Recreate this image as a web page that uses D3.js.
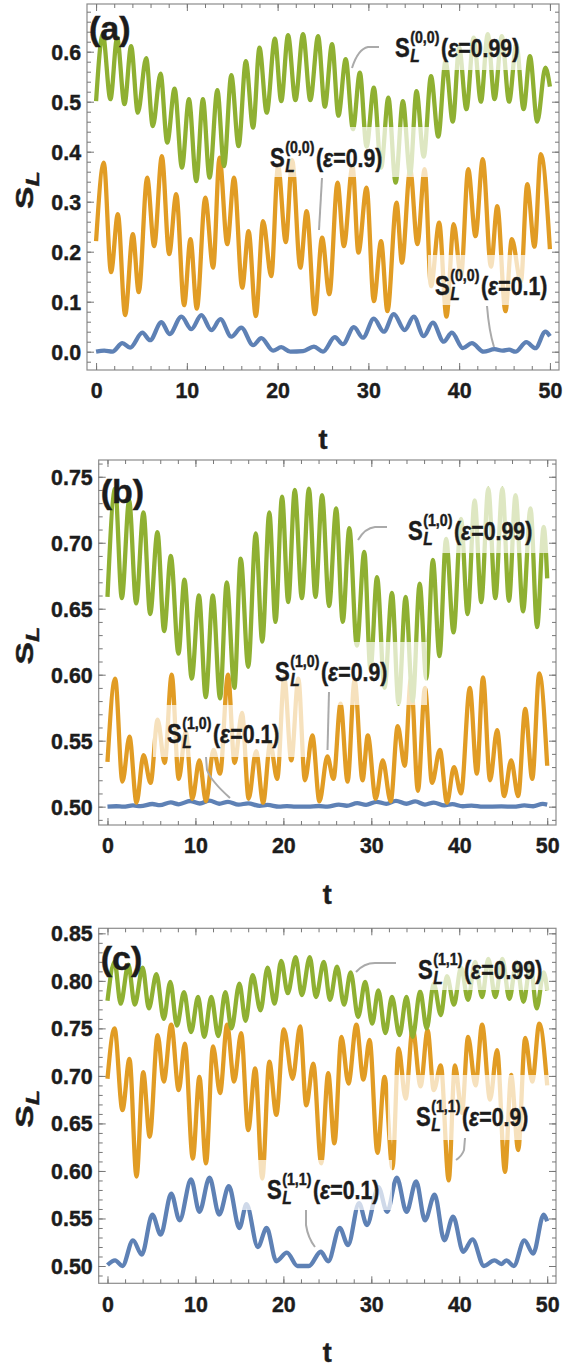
<!DOCTYPE html>
<html>
<head>
<meta charset="utf-8">
<style>
    body { margin: 0; background: #fff; }
    svg { display: block; }
    text {
        font-family: 'Liberation Sans', Arial, sans-serif;
        font-weight: bold;
        fill: #1c1c1c;
        stroke: #1c1c1c;
        stroke-width: 0.45px;
    }
</style>
</head>
<body>
<svg width="568" height="1370"></svg>

<script src="https://cdn.jsdelivr.net/npm/d3@7"></script>
<script>
    // ---- data (extrema of each curve) ----
    let tTicks = [0, 10, 20, 30, 40, 50]

    // panel (a): S_L^(0,0)
    let aTicks = [0.0, 0.1, 0.2, 0.3, 0.4, 0.5, 0.6]
    let aBlueT = [0, 0.9, 1.8, 2.9, 3.75, 5.1, 5.95, 7.2, 8.1, 9.4, 10.5, 11.6, 12.7, 13.7, 14.9, 16.0, 17.3, 18.2, 19.5, 20.4, 21.4, 22.8, 24.0, 25.0, 26.3, 27.2, 28.4, 29.4, 30.6, 31.7, 32.8, 34.0, 35.0, 36.1, 37.1, 38.3, 39.2, 40.4, 41.4, 42.7, 43.9, 44.8, 45.5, 46.2, 47.4, 48.4, 49.5, 50]
    let aBlueV = [0, 0.002, 0, 0.017, 0.008, 0.038, 0.023, 0.059, 0.035, 0.070, 0.045, 0.073, 0.043, 0.065, 0.030, 0.048, 0.013, 0.027, 0.002, 0.009, 0, 0.001, 0.010, 0, 0.029, 0.015, 0.049, 0.028, 0.066, 0.040, 0.075, 0.043, 0.070, 0.031, 0.058, 0.020, 0.038, 0.007, 0.017, 0, 0.005, 0.002, 0.004, 0, 0.019, 0.007, 0.040, 0.031]
    let aOrangeT = [0, 0.85, 1.65, 2.4, 3.2, 4.05, 4.7, 5.63, 6.4, 7.25, 8.05, 8.83, 9.7, 10.4, 11.1, 12.03, 12.9, 13.6, 14.45, 15.2, 16.1, 16.8, 17.6, 18.4, 19.3, 20.05, 20.9, 21.6, 22.5, 23.2, 24.1, 24.9, 25.7, 26.6, 27.3, 28.25, 28.9, 29.8, 30.6, 31.4, 32.1, 33.1, 33.7, 34.6, 35.4, 36.2, 36.9, 37.8, 38.6, 39.4, 40.2, 41.0, 41.8, 42.6, 43.5, 44.2, 45.1, 45.8, 46.8, 47.5, 48.3, 49.0, 50]
    let aOrangeV = [0.221, 0.378, 0.159, 0.275, 0.073, 0.235, 0.119, 0.348, 0.211, 0.391, 0.195, 0.315, 0.093, 0.225, 0.086, 0.308, 0.168, 0.388, 0.215, 0.348, 0.128, 0.241, 0.071, 0.261, 0.151, 0.371, 0.219, 0.383, 0.168, 0.281, 0.075, 0.228, 0.115, 0.338, 0.211, 0.371, 0.198, 0.328, 0.101, 0.221, 0.081, 0.298, 0.178, 0.365, 0.215, 0.365, 0.131, 0.258, 0.070, 0.255, 0.151, 0.365, 0.231, 0.385, 0.170, 0.291, 0.081, 0.225, 0.140, 0.335, 0.210, 0.395, 0.205]
    let aGreenT = [0, 0.74, 1.58, 2.32, 3.13, 3.86, 4.6, 5.52, 6.25, 7.1, 7.84, 8.65, 9.46, 10.23, 11.04, 11.77, 12.5, 13.36, 14.1, 14.9, 15.7, 16.5, 17.3, 18.0, 18.8, 19.7, 20.4, 21.15, 21.96, 22.8, 23.6, 24.46, 25.2, 26.0, 26.7, 27.5, 28.3, 29.06, 29.8, 30.6, 31.4, 32.2, 33.0, 33.8, 34.6, 35.3, 36.1, 36.9, 37.7, 38.5, 39.3, 40.0, 40.8, 41.6, 42.4, 43.15, 43.9, 44.7, 45.5, 46.3, 47.1, 47.8, 48.6, 49.5, 50]
    let aGreenV = [0.501, 0.635, 0.505, 0.628, 0.495, 0.611, 0.478, 0.587, 0.451, 0.556, 0.418, 0.526, 0.368, 0.505, 0.341, 0.505, 0.348, 0.523, 0.371, 0.553, 0.411, 0.581, 0.448, 0.608, 0.478, 0.626, 0.501, 0.633, 0.503, 0.635, 0.503, 0.631, 0.490, 0.615, 0.472, 0.585, 0.445, 0.558, 0.410, 0.528, 0.368, 0.508, 0.338, 0.501, 0.355, 0.521, 0.390, 0.551, 0.430, 0.581, 0.460, 0.608, 0.485, 0.628, 0.500, 0.635, 0.505, 0.631, 0.500, 0.615, 0.485, 0.591, 0.460, 0.568, 0.530]

    // panel (b): S_L^(1,0)
    let bTicks = [0.50, 0.55, 0.60, 0.65, 0.70, 0.75]
    let bBlueT = [0, 1.0, 1.8, 2.9, 3.75, 5.1, 5.95, 7.2, 8.1, 9.4, 10.5, 11.6, 12.7, 13.7, 14.9, 16.0, 17.3, 18.2, 19.5, 20.4, 21.4, 22.8, 24.0, 25.0, 26.3, 27.2, 28.4, 29.4, 30.6, 31.7, 32.8, 34.0, 35.0, 36.1, 37.1, 38.3, 39.2, 40.4, 41.4, 42.7, 44.8, 46.2, 47.4, 48.4, 49.5, 50]
    let bBlueV = [0.5, 0.5003, 0.5, 0.5009, 0.5004, 0.5020, 0.5011, 0.5032, 0.5018, 0.5043, 0.5024, 0.5046, 0.5022, 0.5037, 0.5015, 0.5025, 0.5006, 0.5013, 0.5, 0.5004, 0.5, 0.5, 0.5005, 0.5, 0.5015, 0.5007, 0.5027, 0.5014, 0.5037, 0.5021, 0.5044, 0.5022, 0.5040, 0.5016, 0.5031, 0.5010, 0.5019, 0.5003, 0.5008, 0.5, 0.5002, 0.5, 0.5009, 0.5003, 0.5021, 0.5016]
    let bOrangeT = [0, 0.87, 1.7, 2.5, 3.3, 4.1, 4.9, 5.7, 6.5, 7.3, 8.1, 8.9, 9.65, 10.45, 11.2, 12.05, 12.8, 13.7, 14.45, 15.3, 16.05, 16.9, 17.7, 18.5, 19.3, 20.1, 20.9, 21.7, 22.45, 23.3, 24.1, 25.0, 25.7, 26.5, 27.3, 28.1, 29.0, 29.6, 30.5, 31.3, 32.2, 33.0, 33.8, 34.5, 35.3, 36.1, 36.9, 37.8, 38.6, 39.4, 40.2, 41.2, 42.0, 42.7, 43.5, 44.3, 45.1, 45.9, 46.7, 47.5, 48.3, 49.1, 50]
    let bOrangeV = [0.534, 0.597, 0.519, 0.553, 0.503, 0.539, 0.518, 0.566, 0.533, 0.600, 0.521, 0.557, 0.506, 0.535, 0.504, 0.543, 0.525, 0.600, 0.533, 0.571, 0.506, 0.542, 0.503, 0.548, 0.521, 0.598, 0.535, 0.597, 0.520, 0.554, 0.504, 0.538, 0.521, 0.578, 0.519, 0.596, 0.520, 0.554, 0.506, 0.535, 0.504, 0.561, 0.531, 0.597, 0.512, 0.590, 0.518, 0.543, 0.503, 0.530, 0.510, 0.590, 0.525, 0.598, 0.520, 0.558, 0.508, 0.535, 0.508, 0.574, 0.521, 0.601, 0.531]
    let bGreenT = [0, 0.87, 1.63, 2.46, 3.26, 4.09, 4.85, 5.68, 6.44, 7.2, 8.07, 8.75, 9.58, 10.4, 11.17, 11.97, 12.8, 13.56, 14.43, 15.15, 16.0, 16.86, 17.6, 18.4, 19.1, 19.85, 20.55, 21.3, 22.1, 22.9, 23.65, 24.4, 25.2, 26.0, 26.75, 27.5, 28.35, 29.2, 29.9, 30.65, 31.5, 32.35, 33.1, 33.9, 34.7, 35.5, 36.25, 37.0, 37.75, 38.5, 39.35, 40.2, 40.95, 41.75, 42.5, 43.3, 44.1, 44.9, 45.65, 46.4, 47.25, 48.1, 48.85, 49.6, 50]
    let bGreenV = [0.659, 0.741, 0.658, 0.732, 0.654, 0.723, 0.646, 0.708, 0.633, 0.690, 0.616, 0.672, 0.597, 0.660, 0.583, 0.660, 0.582, 0.670, 0.590, 0.688, 0.606, 0.707, 0.625, 0.723, 0.640, 0.735, 0.655, 0.740, 0.658, 0.741, 0.659, 0.736, 0.652, 0.726, 0.640, 0.711, 0.622, 0.693, 0.604, 0.674, 0.590, 0.662, 0.578, 0.659, 0.580, 0.669, 0.597, 0.687, 0.614, 0.703, 0.632, 0.718, 0.646, 0.732, 0.655, 0.741, 0.658, 0.741, 0.656, 0.736, 0.648, 0.726, 0.636, 0.712, 0.673]

    // panel (c): S_L^(1,1)
    let cTicks = [0.50, 0.55, 0.60, 0.65, 0.70, 0.75, 0.80, 0.85]
    let cBlueT = [0, 0.86, 1.7, 2.9, 3.9, 5.1, 6.05, 7.25, 8.2, 9.5, 10.45, 11.6, 12.7, 13.8, 15.0, 15.8, 17.1, 18.1, 19.2, 20.4, 21.6, 22.9, 24.25, 25.1, 26.4, 27.35, 28.6, 29.5, 30.8, 31.8, 32.9, 34.0, 35.1, 36.1, 37.2, 38.3, 39.3, 40.45, 41.5, 42.8, 44.0, 44.8, 45.35, 46.2, 47.4, 48.4, 49.6, 50]
    let cBlueV = [0.501, 0.506, 0.500, 0.527, 0.512, 0.554, 0.533, 0.576, 0.548, 0.591, 0.557, 0.593, 0.554, 0.584, 0.540, 0.565, 0.520, 0.540, 0.505, 0.514, 0.500, 0.500, 0.515, 0.505, 0.540, 0.522, 0.566, 0.543, 0.583, 0.557, 0.593, 0.557, 0.589, 0.548, 0.575, 0.527, 0.552, 0.515, 0.528, 0.500, 0.506, 0.502, 0.506, 0.500, 0.527, 0.513, 0.554, 0.547]
    let cOrangeT = [0, 0.8, 1.7, 2.5, 3.3, 4.06, 4.8, 5.7, 6.4, 7.25, 8.1, 8.8, 9.7, 10.45, 11.2, 12.0, 12.8, 13.6, 14.4, 15.2, 16.0, 16.8, 17.6, 18.4, 19.2, 20.05, 21.05, 21.9, 22.6, 23.4, 24.3, 25.1, 25.8, 26.6, 27.4, 28.3, 29.1, 29.8, 30.7, 31.5, 32.4, 33.1, 33.9, 34.7, 35.6, 36.4, 37.1, 37.9, 38.8, 39.5, 40.3, 41.0, 41.85, 42.6, 43.5, 44.3, 45.2, 45.9, 46.7, 47.5, 48.3, 49.1, 50]
    let cOrangeV = [0.697, 0.750, 0.664, 0.718, 0.594, 0.704, 0.636, 0.743, 0.694, 0.754, 0.685, 0.734, 0.613, 0.699, 0.608, 0.731, 0.682, 0.754, 0.694, 0.745, 0.643, 0.708, 0.592, 0.715, 0.659, 0.749, 0.697, 0.752, 0.669, 0.713, 0.608, 0.703, 0.629, 0.741, 0.692, 0.754, 0.696, 0.738, 0.619, 0.699, 0.603, 0.729, 0.676, 0.750, 0.689, 0.748, 0.685, 0.711, 0.590, 0.711, 0.661, 0.741, 0.690, 0.754, 0.675, 0.727, 0.599, 0.701, 0.622, 0.740, 0.694, 0.755, 0.690]
    let cGreenT = [0, 0.8, 1.5, 2.37, 3.1, 4.0, 4.7, 5.56, 6.4, 7.14, 7.9, 8.7, 9.5, 10.3, 11.0, 11.8, 12.6, 13.4, 14.1, 15.0, 15.7, 16.5, 17.4, 18.2, 19.0, 19.75, 20.5, 21.4, 22.1, 23.0, 23.7, 24.6, 25.3, 26.1, 26.9, 27.65, 28.5, 29.3, 30.1, 30.8, 31.6, 32.35, 33.2, 34.0, 34.7, 35.55, 36.3, 37.1, 37.9, 38.6, 39.4, 40.2, 41.0, 41.8, 42.6, 43.3, 44.1, 44.9, 45.7, 46.5, 47.3, 48.1, 48.8, 49.6, 50]
    let cGreenV = [0.779, 0.820, 0.776, 0.817, 0.775, 0.814, 0.771, 0.807, 0.760, 0.799, 0.753, 0.788, 0.746, 0.783, 0.741, 0.783, 0.742, 0.788, 0.750, 0.797, 0.758, 0.806, 0.769, 0.814, 0.776, 0.821, 0.787, 0.825, 0.785, 0.825, 0.783, 0.820, 0.780, 0.815, 0.775, 0.809, 0.762, 0.799, 0.755, 0.790, 0.745, 0.783, 0.743, 0.783, 0.741, 0.789, 0.750, 0.797, 0.764, 0.805, 0.775, 0.814, 0.780, 0.820, 0.783, 0.823, 0.783, 0.823, 0.781, 0.820, 0.778, 0.817, 0.771, 0.809, 0.790]

    let blue = '#5e81b5', orange = '#e19c24', green = '#8fb032'

    let panels = [
        {
            name: '(a)', nameY: 40, left: 87, right: 559, top: 4, bottom: 370,
            yDomain: [-0.0366, 0.6954], ticks: aTicks, minorStep: 0.02, fmt: '.1f',
            series: [[aBlueT, aBlueV, blue], [aOrangeT, aOrangeV, orange], [aGreenT, aGreenV, green]],
            labels: [
                { sup: '(0,0)', eps: '0.99', x: 395, b: 57, box: [390, 28, 524, 70], lead: 'M352,68 Q358,49 368,47 L379,47' },
                { sup: '(0,0)', eps: '0.9', x: 270, b: 167, box: [266, 127, 433, 177], lead: 'M322,178 L319,230' },
                { sup: '(0,0)', eps: '0.1', x: 435, b: 295, box: [428, 255, 547, 305], lead: 'M487,306 Q489,331 494,347' }
            ]
        },
        {
            name: '(b)', nameY: 503, left: 98.7, right: 556, top: 460, bottom: 825,
            yDomain: [0.4861, 0.7627], ticks: bTicks, minorStep: 0.01, fmt: '.2f',
            series: [[bBlueT, bBlueV, blue], [bOrangeT, bOrangeV, orange], [bGreenT, bGreenV, green]],
            labels: [
                { sup: '(1,0)', eps: '0.99', x: 408, b: 540, box: [403, 487, 550, 553], lead: 'M358,540 Q365,528 375,527 L387,527' },
                { sup: '(1,0)', eps: '0.9', x: 275, b: 681, box: [273, 642, 427, 705], lead: 'M329,692 L327.5,750' },
                { sup: '(1,0)', eps: '0.1', x: 167, b: 743, box: [153, 705, 307, 757], lead: 'M206,757 L207,770 Q211,781 230,798' }
            ]
        },
        {
            name: '(c)', nameY: 970, left: 98.7, right: 556, top: 928.3, bottom: 1283.3,
            yDomain: [0.4818, 0.8553], ticks: cTicks, minorStep: 0.01, fmt: '.2f',
            series: [[cBlueT, cBlueV, blue], [cOrangeT, cOrangeV, orange], [cGreenT, cGreenV, green]],
            labels: [
                { sup: '(1,1)', eps: '0.99', x: 418, b: 979, box: [413, 945, 550, 990], lead: 'M356,972 Q364,963 375,963 L396,963' },
                { sup: '(1,1)', eps: '0.9', x: 416, b: 1126, box: [388, 1075, 550, 1140], lead: 'M465,1138 L464,1150 Q462,1156 456,1160' },
                { sup: '(1,1)', eps: '0.1', x: 267, b: 1199, box: [240, 1160, 392, 1210], lead: 'M306,1210 L306,1225 Q308,1238 315,1247' }
            ]
        }
    ]

    let tickSqueeze = 0.93   // tick numbers are slightly narrower than Liberation Sans
    let labelSqueeze = 0.82  // curve labels are condensed

    let svg = d3.select('svg')
    svg.append('rect').attr('width', 568).attr('height', 1370).style('fill', '#fff')

    panels.forEach(drawPanel)

    function squeezed(g, x, y, size, sx) {
        return g.append('text')
            .attr('transform', `translate(${x},${y}) scale(${sx},1)`)
            .style('font-size', size + 'px')
    }

    function drawPanel(p) {
        let g = svg.append('g')
        let x = d3.scaleLinear().domain([-1, 51]).range([p.left, p.right])
        let y = d3.scaleLinear().domain(p.yDomain).range([p.bottom, p.top])

        let line = d3.line()
            .x(d => x(d[0]))
            .y(d => y(d[1]))
            .curve(d3.curveMonotoneX)

        p.series.forEach(s => {
            g.append('path')
                .datum(s[0].map((t, i) => [t, s[1][i]]))
                .attr('d', line)
                .style('fill', 'none')
                .style('stroke', s[2])
                .style('stroke-width', 4.3)
                .style('stroke-linejoin', 'round')
        })

        // white see-through boxes behind the curve labels
        p.labels.forEach(l => {
            g.append('rect')
                .attr('x', l.box[0]).attr('y', l.box[1])
                .attr('width', l.box[2] - l.box[0]).attr('height', l.box[3] - l.box[1])
                .style('fill', '#fff')
                .style('opacity', 0.7)
        })

        // frame
        g.append('rect')
            .attr('x', p.left).attr('y', p.top)
            .attr('width', p.right - p.left).attr('height', p.bottom - p.top)
            .style('fill', 'none')
            .style('stroke', '#8c8c8c')
            .style('stroke-width', 1.2)

        let n = Math.round((p.yDomain[1] - p.yDomain[0]) / p.minorStep) + 2
        let k0 = Math.ceil(p.yDomain[0] / p.minorStep)
        let yMinor = d3.range(k0, k0 + n).map(i => +(i * p.minorStep).toFixed(3))
            .filter(v => v >= p.yDomain[0] && v <= p.yDomain[1])
        let tMinor = d3.range(0, 51, 2)

        let axes = [
            [d3.axisBottom(x).tickValues(tTicks).tickFormat(d3.format('d')), `translate(0,${p.bottom})`, 12],
            [d3.axisTop(x).tickValues(tTicks).tickFormat(''), `translate(0,${p.top})`, 0],
            [d3.axisLeft(y).tickValues(p.ticks).tickFormat(d3.format(p.fmt)), `translate(${p.left},0)`, 6],
            [d3.axisRight(y).tickValues(p.ticks).tickFormat(''), `translate(${p.right},0)`, 0]
        ]
        axes.forEach(a => {
            let ax = g.append('g')
                .attr('transform', a[1])
                .call(a[0].tickSize(-7).tickPadding(a[2]))
            ax.select('.domain').remove()
            ax.selectAll('line').style('stroke', '#777')
            ax.selectAll('text')
                .style('font-size', '23px')
                .attr('x', function () { return (+this.getAttribute('x') || 0) / tickSqueeze })
                .attr('transform', `scale(${tickSqueeze},1)`)
        })
        let minors = [
            [d3.axisBottom(x).tickValues(tMinor), `translate(0,${p.bottom})`],
            [d3.axisTop(x).tickValues(tMinor), `translate(0,${p.top})`],
            [d3.axisLeft(y).tickValues(yMinor), `translate(${p.left},0)`],
            [d3.axisRight(y).tickValues(yMinor), `translate(${p.right},0)`]
        ]
        minors.forEach(a => {
            let ax = g.append('g')
                .attr('transform', a[1])
                .call(a[0].tickSize(-4).tickFormat(''))
            ax.select('.domain').remove()
            ax.selectAll('line').style('stroke', '#777')
        })

        // panel tag
        g.append('text')
            .attr('x', p.left + 2)
            .attr('y', p.nameY)
            .style('font-size', '34px')
            .text(p.name)

        // axis titles
        g.append('text')
            .attr('x', (x(0) + x(50)) / 2)
            .attr('y', p.bottom + 79)
            .style('text-anchor', 'middle')
            .style('font-size', '27px')
            .text('t')

        let yl = g.append('text')
            .attr('transform', `translate(33,${(p.top + p.bottom) / 2 + 3}) rotate(-90) scale(1.4,1)`)
            .style('text-anchor', 'middle')
            .style('font-size', '24px')
        yl.append('tspan').text('S')
        yl.append('tspan').attr('dy', 6).style('font-size', '18px').style('font-style', 'italic').text('L')

        // callout lines and labels
        p.labels.forEach(l => {
            g.append('path')
                .attr('d', l.lead)
                .style('fill', 'none')
                .style('stroke', '#aaa')
                .style('stroke-width', 2)

            let s = squeezed(g, l.x, l.b, 27, labelSqueeze).text('S')
            let sx = l.x + s.node().getComputedTextLength() * labelSqueeze + 0.5
            let sup = squeezed(g, sx, l.b - 14, 16.5, 0.86).text(l.sup)
            squeezed(g, sx, l.b + 5, 19, labelSqueeze).style('font-style', 'italic').text('L')
            let rest = squeezed(g, sx + sup.node().getComputedTextLength() * 0.86 + 1.5, l.b, 26, labelSqueeze)
            rest.append('tspan').text('(')
            rest.append('tspan').style('font-style', 'italic').text('ε')
            rest.append('tspan').text('=' + l.eps + ')')
        })
    }
</script>
</body>
</html>
